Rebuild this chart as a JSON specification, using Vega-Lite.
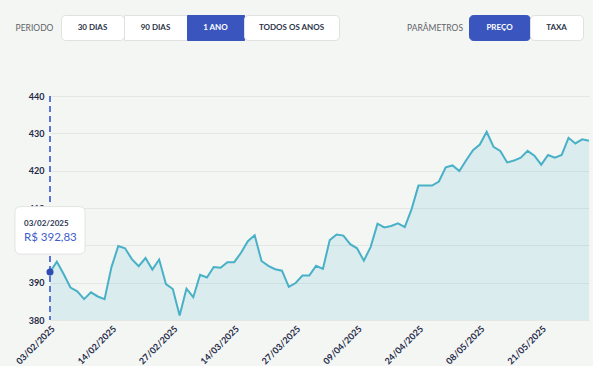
{
  "$schema": "https://vega.github.io/schema/vega-lite/v6.json",
  "background": "#f4f6f4",
  "padding": {"left": 0, "top": 14, "right": 0, "bottom": 0},
  "bounds": "flush",
  "spacing": 81,
  "datasets": {
    "prices": [
      {"date": "2025-02-03", "price": 392.83},
      {"date": "2025-02-04", "price": 395.6},
      {"date": "2025-02-05", "price": 392.3},
      {"date": "2025-02-06", "price": 388.7},
      {"date": "2025-02-07", "price": 387.7},
      {"date": "2025-02-10", "price": 385.6},
      {"date": "2025-02-11", "price": 387.4},
      {"date": "2025-02-12", "price": 386.3},
      {"date": "2025-02-13", "price": 385.6},
      {"date": "2025-02-14", "price": 394.1},
      {"date": "2025-02-17", "price": 399.8},
      {"date": "2025-02-18", "price": 399.2},
      {"date": "2025-02-19", "price": 396.3},
      {"date": "2025-02-20", "price": 394.4},
      {"date": "2025-02-21", "price": 396.6},
      {"date": "2025-02-24", "price": 393.5},
      {"date": "2025-02-25", "price": 396.2},
      {"date": "2025-02-26", "price": 389.6},
      {"date": "2025-02-27", "price": 388.3},
      {"date": "2025-02-28", "price": 381.2},
      {"date": "2025-03-05", "price": 388.4},
      {"date": "2025-03-06", "price": 386.1},
      {"date": "2025-03-07", "price": 392.1},
      {"date": "2025-03-10", "price": 391.4},
      {"date": "2025-03-11", "price": 394.2},
      {"date": "2025-03-12", "price": 394.0},
      {"date": "2025-03-13", "price": 395.5},
      {"date": "2025-03-14", "price": 395.5},
      {"date": "2025-03-17", "price": 398.0},
      {"date": "2025-03-18", "price": 401.1},
      {"date": "2025-03-19", "price": 402.7},
      {"date": "2025-03-20", "price": 395.8},
      {"date": "2025-03-21", "price": 394.5},
      {"date": "2025-03-24", "price": 393.6},
      {"date": "2025-03-25", "price": 393.2},
      {"date": "2025-03-26", "price": 388.9},
      {"date": "2025-03-27", "price": 389.9},
      {"date": "2025-03-28", "price": 391.9},
      {"date": "2025-03-31", "price": 391.9},
      {"date": "2025-04-01", "price": 394.5},
      {"date": "2025-04-02", "price": 393.7},
      {"date": "2025-04-03", "price": 401.4},
      {"date": "2025-04-04", "price": 402.9},
      {"date": "2025-04-07", "price": 402.6},
      {"date": "2025-04-08", "price": 400.3},
      {"date": "2025-04-09", "price": 399.2},
      {"date": "2025-04-10", "price": 395.9},
      {"date": "2025-04-11", "price": 399.6},
      {"date": "2025-04-14", "price": 405.8},
      {"date": "2025-04-15", "price": 404.8},
      {"date": "2025-04-16", "price": 405.2},
      {"date": "2025-04-17", "price": 405.9},
      {"date": "2025-04-22", "price": 404.9},
      {"date": "2025-04-23", "price": 409.7},
      {"date": "2025-04-24", "price": 416.0},
      {"date": "2025-04-25", "price": 416.0},
      {"date": "2025-04-28", "price": 416.0},
      {"date": "2025-04-29", "price": 417.1},
      {"date": "2025-04-30", "price": 420.9},
      {"date": "2025-05-02", "price": 421.4},
      {"date": "2025-05-05", "price": 419.9},
      {"date": "2025-05-06", "price": 422.8},
      {"date": "2025-05-07", "price": 425.5},
      {"date": "2025-05-08", "price": 427.0},
      {"date": "2025-05-09", "price": 430.4},
      {"date": "2025-05-12", "price": 426.4},
      {"date": "2025-05-13", "price": 425.3},
      {"date": "2025-05-14", "price": 422.2},
      {"date": "2025-05-15", "price": 422.7},
      {"date": "2025-05-16", "price": 423.5},
      {"date": "2025-05-19", "price": 425.3},
      {"date": "2025-05-20", "price": 424.0},
      {"date": "2025-05-21", "price": 421.6},
      {"date": "2025-05-22", "price": 424.2},
      {"date": "2025-05-23", "price": 423.5},
      {"date": "2025-05-26", "price": 424.2},
      {"date": "2025-05-27", "price": 428.8},
      {"date": "2025-05-28", "price": 427.3},
      {"date": "2025-05-29", "price": 428.4},
      {"date": "2025-05-30", "price": 428.0}
    ],
    "tip": [
      {"date": "2025-02-03", "label": "03/02/2025", "price": 392.83}
    ]
  },
  "vconcat": [
    {
      "hconcat": [
        {"width": 61, "height": 25, "data": {"values": [{"t": "PERIODO"}]}, "mark": {"type": "text", "fontSize": 8.5, "color": "#5f6368", "dx": 4}, "encoding": {"text": {"field": "t"}}},
        {"width": 63, "height": 25, "view": {"fill": "#ffffff", "stroke": "#dfe2df", "cornerRadius": 4}, "data": {"values": [{"t": "30 DIAS"}]}, "mark": {"type": "text", "fontSize": 8, "fontWeight": "bold", "color": "#2b3348"}, "encoding": {"text": {"field": "t"}}},
        {"width": 63, "height": 25, "view": {"fill": "#ffffff", "stroke": "#dfe2df"}, "data": {"values": [{"t": "90 DIAS"}]}, "mark": {"type": "text", "fontSize": 8, "fontWeight": "bold", "color": "#2b3348"}, "encoding": {"text": {"field": "t"}}},
        {"width": 57, "height": 25, "view": {"fill": "#3a56be", "stroke": "#3a56be"}, "data": {"values": [{"t": "1 ANO"}]}, "mark": {"type": "text", "fontSize": 8, "fontWeight": "bold", "color": "#ffffff"}, "encoding": {"text": {"field": "t"}}},
        {"width": 95, "height": 25, "view": {"fill": "#ffffff", "stroke": "#dfe2df", "cornerRadius": 4}, "data": {"values": [{"t": "TODOS OS ANOS"}]}, "mark": {"type": "text", "fontSize": 8, "fontWeight": "bold", "color": "#2b3348"}, "encoding": {"text": {"field": "t"}}},
        {"width": 130, "height": 25, "data": {"values": [{"t": "PARÂMETROS"}]}, "mark": {"type": "text", "fontSize": 8.5, "color": "#5f6368", "dx": 31}, "encoding": {"text": {"field": "t"}}},
        {"width": 61, "height": 25, "view": {"fill": "#3a56be", "stroke": "#3a56be", "cornerRadius": 4}, "data": {"values": [{"t": "PREÇO"}]}, "mark": {"type": "text", "fontSize": 8, "fontWeight": "bold", "color": "#ffffff"}, "encoding": {"text": {"field": "t"}}},
        {"width": 53, "height": 25, "view": {"fill": "#ffffff", "stroke": "#dfe2df", "cornerRadius": 4}, "data": {"values": [{"t": "TAXA"}]}, "mark": {"type": "text", "fontSize": 8, "fontWeight": "bold", "color": "#2b3348"}, "encoding": {"text": {"field": "t"}}}
      ],
      "spacing": 0,
      "bounds": "flush"
    },
    {
      "hconcat": [
        {"width": 50, "height": 224, "data": {"values": [{"t": ""}]}, "mark": "text", "encoding": {"text": {"field": "t"}}},
        {
          "width": 539,
          "height": 224,
          "data": {"name": "prices"},
          "encoding": {
            "x": {
              "field": "date", "type": "ordinal", "sort": "ascending",
              "scale": {"type": "point", "padding": 0},
              "axis": {
                "values": ["2025-02-03", "2025-02-14", "2025-02-27", "2025-03-14", "2025-03-27", "2025-04-09", "2025-04-24", "2025-05-08", "2025-05-21"],
                "labelExpr": "slice(datum.value, 8, 10) + '/' + slice(datum.value, 5, 7) + '/' + slice(datum.value, 0, 4)",
                "labelAngle": -45, "title": null, "domain": false, "ticks": false, "tickSize": 0,
                "labelPadding": 4, "labelFontSize": 9, "labelFontWeight": "bold", "labelColor": "#1e2a48", "grid": false
              }
            },
            "y": {
              "field": "price", "type": "quantitative",
              "scale": {"domain": [380, 440], "nice": false, "zero": false},
              "axis": {
                "values": [380, 390, 400, 410, 420, 430, 440], "title": null, "domain": false, "ticks": false, "tickSize": 0,
                "labelPadding": 6, "labelFontSize": 9, "labelFontWeight": "bold", "labelColor": "#1e2a48",
                "gridColor": "#e4e7e4", "gridWidth": 1
              }
            }
          },
          "layer": [
            {"mark": {"type": "area", "color": "#4bb3c9", "opacity": 0.15}, "encoding": {"y2": {"datum": 380}}},
            {"mark": {"type": "line", "color": "#48b1c7", "strokeWidth": 2}},
            {"data": {"name": "tip"}, "mark": {"type": "rule", "color": "#5b74d6", "strokeWidth": 2, "strokeDash": [6, 4]}, "encoding": {"y": null}},
            {"data": {"name": "tip"}, "mark": {"type": "circle", "size": 50, "color": "#2e4cb3", "opacity": 1}},
            {"data": {"name": "tip"}, "mark": {"type": "rect", "width": 70, "fill": "#ffffff", "stroke": "#e1e4e1", "strokeWidth": 1, "cornerRadius": 5, "yOffset": -65.5, "y2Offset": -18}, "encoding": {"y2": {"field": "price"}}},
            {"data": {"name": "tip"}, "mark": {"type": "text", "align": "left", "dx": -26, "dy": -48, "fontSize": 8, "fontWeight": "bold", "color": "#2b3653"}, "encoding": {"text": {"field": "label"}}},
            {"data": {"name": "tip"}, "mark": {"type": "text", "align": "left", "dx": -26, "dy": -34, "fontSize": 11.5, "color": "#3e5ccb"}, "encoding": {"text": {"field": "price", "type": "quantitative", "format": "$.2f"}}}
          ]
        }
      ],
      "spacing": 0,
      "bounds": "flush"
    }
  ],
  "config": {
    "view": {"stroke": null},
    "font": "Lato",
    "locale": {"number": {"decimal": ",", "thousands": ".", "grouping": [3], "currency": ["R$ ", ""]}}
  }
}
